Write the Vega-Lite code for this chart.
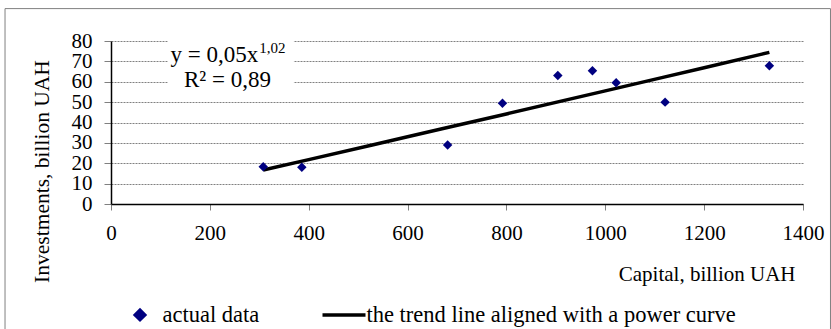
{
  "$schema": "https://vega.github.io/schema/vega-lite/v6.json",
  "autosize": {"type": "none"},
  "width": 692,
  "height": 163,
  "padding": {"left": 111, "top": 41, "right": 28, "bottom": 125},
  "background": "white",
  "datasets": {
    "points": [
      {"capital": 308, "investments": 18.3},
      {"capital": 386, "investments": 18.0},
      {"capital": 681, "investments": 28.9},
      {"capital": 792, "investments": 49.5},
      {"capital": 904, "investments": 63.1},
      {"capital": 974, "investments": 65.4},
      {"capital": 1022, "investments": 59.5},
      {"capital": 1121, "investments": 50.0},
      {"capital": 1332, "investments": 67.8}
    ],
    "trend": [
      {"capital": 308, "investments": 16.7},
      {"capital": 400, "investments": 21.8},
      {"capital": 600, "investments": 33.0},
      {"capital": 800, "investments": 44.2},
      {"capital": 1000, "investments": 55.5},
      {"capital": 1200, "investments": 66.9},
      {"capital": 1332, "investments": 74.4}
    ]
  },
  "layer": [
    {
      "data": {"name": "points"},
      "mark": {"type": "point", "shape": "diamond", "filled": true, "size": 90, "opacity": 0},
      "encoding": {
        "x": {
          "field": "capital",
          "type": "quantitative",
          "scale": {"domain": [0, 1400], "nice": false, "zero": false},
          "axis": {"title": "Capital, billion UAH", "titleX": 684, "titleY": 76, "titleAlign": "right"}
        },
        "y": {
          "field": "investments",
          "type": "quantitative",
          "scale": {"domain": [0, 80], "nice": false, "zero": false},
          "axis": {
            "title": "Investments, billion UAH",
            "titleX": -63,
            "titleY": 130,
            "titleAngle": -90,
            "titleAlign": "center",
            "titleFontSize": 21.5
          }
        },
        "color": {
          "datum": "actual data",
          "scale": {
            "domain": ["actual data", "the trend line aligned with a power curve"],
            "range": ["#000080", "#000000"]
          },
          "legend": {
            "title": null,
            "orient": "none",
            "legendX": 5.5,
            "legendY": 250,
            "direction": "horizontal",
            "padding": 0,
            "symbolSize": 1849,
            "labelOffset": -1,
            "columnPadding": 56,
            "labelFont": "Liberation Serif",
            "labelFontSize": 22.5,
            "labelColor": "#000000",
            "labelLimit": 0,
            "encode": {
              "symbols": {
                "update": {
                  "shape": {"signal": "datum.value === 'actual data' ? 'diamond' : 'stroke'"},
                  "size": {"signal": "datum.value === 'actual data' ? 90 : 1849"},
                  "fill": {"signal": "datum.value === 'actual data' ? '#000080' : 'transparent'"},
                  "stroke": {"signal": "datum.value === 'actual data' ? 'transparent' : '#000000'"},
                  "strokeWidth": {"value": 3.5},
                  "opacity": {"value": 1}
                }
              }
            }
          }
        }
      }
    },
    {
      "data": {"values": [{}]},
      "mark": {"type": "rect", "fill": "transparent", "stroke": "#808080", "strokeWidth": 1},
      "encoding": {
        "x": {"datum": -214.4, "type": "quantitative"},
        "x2": {"datum": 1455.6},
        "y": {"datum": 95.9, "type": "quantitative"},
        "y2": {"datum": -64.4}
      }
    },
    {
      "data": {"values": [{}]},
      "mark": {"type": "rect", "fill": "white", "stroke": null},
      "encoding": {
        "x": {"datum": 115, "type": "quantitative"},
        "x2": {"datum": 370},
        "y": {"datum": 83, "type": "quantitative"},
        "y2": {"datum": 55}
      }
    },
    {
      "data": {"name": "trend"},
      "mark": {"type": "line", "strokeWidth": 3.5, "interpolate": "monotone"},
      "encoding": {
        "x": {"field": "capital", "type": "quantitative"},
        "y": {"field": "investments", "type": "quantitative"},
        "color": {"datum": "the trend line aligned with a power curve", "legend": null}
      }
    },
    {
      "data": {"name": "points"},
      "mark": {"type": "point", "shape": "diamond", "filled": true, "size": 90, "opacity": 1},
      "encoding": {
        "x": {"field": "capital", "type": "quantitative"},
        "y": {"field": "investments", "type": "quantitative"},
        "color": {"datum": "actual data", "legend": null}
      }
    },
    {
      "data": {"values": [{"label": "y = 0,05x"}]},
      "mark": {"type": "text", "font": "Liberation Serif", "fontSize": 23, "align": "right", "baseline": "middle", "color": "#000000"},
      "encoding": {
        "x": {"datum": 298, "type": "quantitative"},
        "y": {"datum": 73.3, "type": "quantitative"},
        "text": {"field": "label"}
      }
    },
    {
      "data": {"values": [{"label": "1,02"}]},
      "mark": {"type": "text", "font": "Liberation Serif", "fontSize": 15, "align": "left", "baseline": "middle", "dx": 1, "dy": -7, "color": "#000000"},
      "encoding": {
        "x": {"datum": 298, "type": "quantitative"},
        "y": {"datum": 73.3, "type": "quantitative"},
        "text": {"field": "label"}
      }
    },
    {
      "data": {"values": [{"label": "R² = 0,89"}]},
      "mark": {"type": "text", "font": "Liberation Serif", "fontSize": 23, "align": "center", "baseline": "middle", "color": "#000000"},
      "encoding": {
        "x": {"datum": 235.7, "type": "quantitative"},
        "y": {"datum": 61.0, "type": "quantitative"},
        "text": {"field": "label"}
      }
    }
  ],
  "config": {
    "view": {"stroke": null},
    "font": "Liberation Serif",
    "axis": {
      "labelFont": "Liberation Serif",
      "labelFontSize": 21,
      "labelColor": "#000000",
      "titleFont": "Liberation Serif",
      "titleFontSize": 21,
      "titleFontWeight": "normal",
      "titleColor": "#000000",
      "domainColor": "#000000",
      "domainWidth": 1.5,
      "tickColor": "#808080",
      "labelOverlap": false,
      "labelBound": false,
      "labelFlush": false,
      "labelPadding": 12,
      "titleAnchor": null,
      "titleBaseline": "alphabetic"
    },
    "axisX": {
      "tickCount": 7,
      "labelExpr": "replace(datum.label, ',', '')",
      "grid": false,
      "tickSize": 6
    },
    "axisY": {
      "tickCount": 8,
      "grid": true,
      "gridColor": "#808080",
      "gridDash": [2, 1],
      "gridWidth": 1,
      "tickSize": 7
    }
  }
}
